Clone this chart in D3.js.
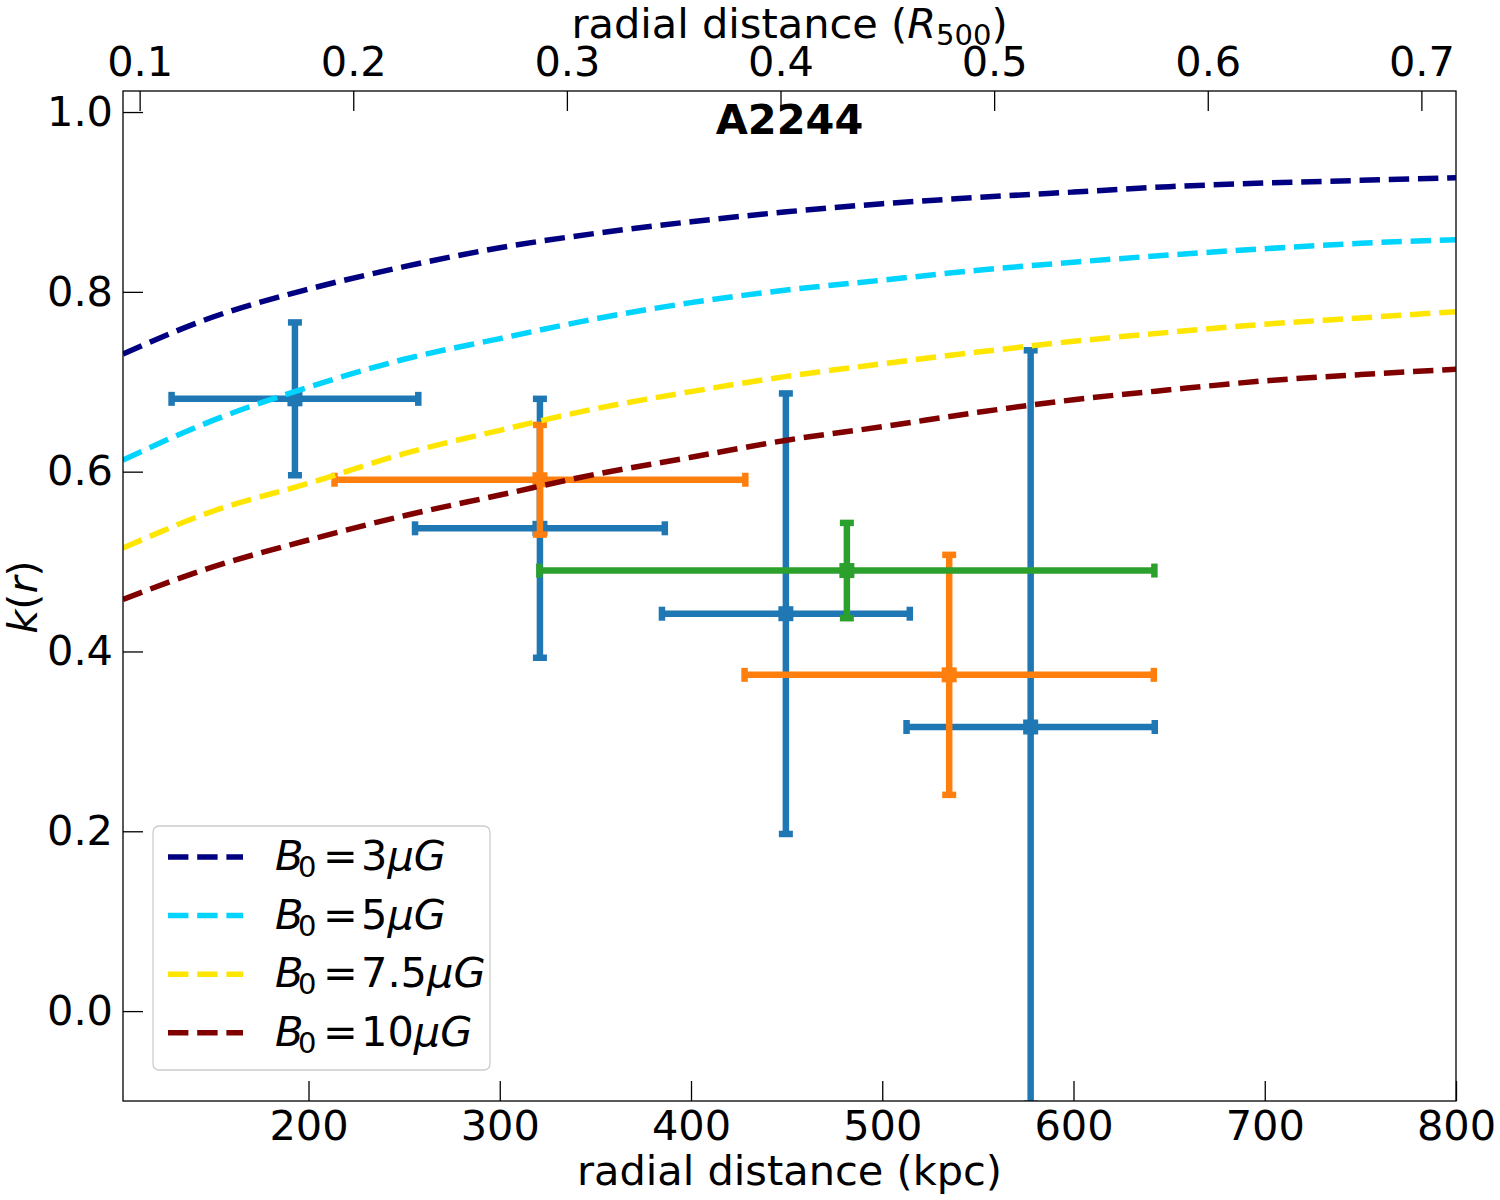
<!DOCTYPE html>
<html><head><meta charset="utf-8">
<script src="https://cdn.jsdelivr.net/npm/d3@7"></script>
<style>
body{margin:0;background:#fff}
text{font-family:"DejaVu Sans",sans-serif;fill:#000}
</style>
</head><body>
<svg id="chart" width="1500" height="1200"></svg>
<script>
// ---------- data ----------
const curveR = [103,150,200,250,300,350,400,450,500,550,600,650,700,750,800];
const kB3   = [0.731,0.772,0.803,0.828,0.849,0.865,0.878,0.889,0.898,0.905,0.911,0.917,0.921,0.924,0.927];
const kB5   = [0.613,0.657,0.694,0.725,0.748,0.770,0.788,0.802,0.813,0.824,0.833,0.841,0.848,0.854,0.858];
const kB75  = [0.515,0.556,0.587,0.620,0.646,0.670,0.689,0.706,0.720,0.733,0.745,0.755,0.764,0.771,0.778];
const kB10  = [0.458,0.494,0.524,0.551,0.574,0.597,0.616,0.635,0.650,0.666,0.680,0.691,0.701,0.708,0.714];
const curveLabels = ["3","5","7.5","10"];
const curveColors = ["#000080","#00d4ff","#ffe600","#800000"];

const blueR    = [192.9,321.0,449.6,577.6];
const blueRerr = [64.5,65.3,64.8,64.9];
const blueK    = [0.681,0.537,0.442,0.316];
const blueKerr = [0.085,0.144,0.245,0.419];

const orangeR    = [321.0,535.0];
const orangeRerr = [107.4,107.0];
const orangeK    = [0.591,0.374];
const orangeKerr = [0.061,0.1335];

const greenR    = [481.5];
const greenRerr = [160.8];
const greenK    = [0.490];
const greenKerr = [0.053];

const xTicks   = [200,300,400,500,600,700,800];
const topTicks = [0.1,0.2,0.3,0.4,0.5,0.6,0.7];
const yTicks   = [0.0,0.2,0.4,0.6,0.8,1.0];
const R500 = 1117;   // kpc
const titleText = "A2244";

// ---------- layout ----------
const L = 123, R = 1456, T = 91, B = 1101;
const FS = 41.5;
const svg = d3.select("#chart");

const x = d3.scaleLinear().domain([103, 800]).range([L, R]);
const xTop = d3.scaleLinear().domain([103 / R500, 800 / R500]).range([L, R]);
const y = d3.scaleLinear().domain([-0.1, 1.0234]).range([B, T]);

svg.append("defs").append("clipPath").attr("id","clip")
  .append("rect").attr("x",L).attr("y",T).attr("width",R-L).attr("height",B-T);

const plot = svg.append("g").attr("clip-path","url(#clip)");

// ---------- error bars ----------
function errorbars(rs, rerr, ks, kerr, color) {
  const g = plot.append("g");
  const lw = 6.5, cap = 7;
  rs.forEach((r, i) => {
    const cx = x(r), cy = y(ks[i]);
    const x0 = x(r - rerr[i]), x1 = x(r + rerr[i]);
    const y0 = y(ks[i] - kerr[i]), y1 = y(ks[i] + kerr[i]);
    g.append("line").attr("x1",x0).attr("x2",x1).attr("y1",cy).attr("y2",cy)
      .attr("stroke",color).attr("stroke-width",lw);
    g.append("line").attr("x1",cx).attr("x2",cx).attr("y1",y0).attr("y2",y1)
      .attr("stroke",color).attr("stroke-width",lw);
    [x0, x1].forEach(xx => g.append("line").attr("x1",xx).attr("x2",xx)
      .attr("y1",cy-cap).attr("y2",cy+cap).attr("stroke",color).attr("stroke-width",lw));
    [y0, y1].forEach(yy => g.append("line").attr("x1",cx-cap).attr("x2",cx+cap)
      .attr("y1",yy).attr("y2",yy).attr("stroke",color).attr("stroke-width",lw));
    g.append("rect").attr("x",cx-7.5).attr("y",cy-7.5).attr("width",15).attr("height",15)
      .attr("fill",color);
  });
}
errorbars(blueR, blueRerr, blueK, blueKerr, "#1f77b4");
errorbars(orangeR, orangeRerr, orangeK, orangeKerr, "#ff7f0e");
errorbars(greenR, greenRerr, greenK, greenKerr, "#2ca02c");

// ---------- curves ----------
const curves = [kB3, kB5, kB75, kB10];
const line = d3.line().x(d => x(d[0])).y(d => y(d[1])).curve(d3.curveMonotoneX);
curves.forEach((ks, i) => {
  plot.append("path").datum(curveR.map((r, j) => [r, ks[j]]))
    .attr("d", line).attr("fill","none").attr("stroke",curveColors[i])
    .attr("stroke-width",5.5).attr("stroke-dasharray","20.4,8.8");
});

// ---------- axes ----------
const styleAxis = g => {
  g.select(".domain").remove();
  g.selectAll(".tick line").attr("stroke","#000").attr("stroke-width",1.3);
  g.selectAll(".tick text").attr("font-size",FS).attr("font-family","DejaVu Sans").attr("fill","#000");
};
svg.append("g").attr("transform",`translate(0,${B})`)
  .call(d3.axisBottom(x).tickValues(xTicks).tickSizeInner(-20).tickSizeOuter(0).tickPadding(9.5).tickFormat(d3.format("d")))
  .call(styleAxis);
svg.append("g").attr("transform",`translate(0,${T})`)
  .call(d3.axisTop(xTop).tickValues(topTicks).tickSizeInner(-20).tickSizeOuter(0).tickPadding(15).tickFormat(d3.format(".1f")))
  .call(styleAxis);
svg.append("g").attr("transform",`translate(${L},0)`)
  .call(d3.axisLeft(y).tickValues(yTicks).tickSizeInner(-20).tickSizeOuter(0).tickPadding(10).tickFormat(d3.format(".1f")))
  .call(styleAxis);

// spines
svg.append("rect").attr("x",L).attr("y",T).attr("width",R-L).attr("height",B-T)
  .attr("fill","none").attr("stroke","#000").attr("stroke-width",1.3);

// ---------- labels ----------
svg.append("text").attr("x",(L+R)/2).attr("y",1185).attr("text-anchor","middle")
  .attr("font-size",FS).text("radial distance (kpc)");

const tl = svg.append("text").attr("x",(L+R)/2).attr("y",38).attr("text-anchor","middle").attr("font-size",FS);
tl.append("tspan").text("radial distance (");
tl.append("tspan").attr("font-style","italic").text("R");
tl.append("tspan").attr("font-size",29).attr("dy",7).text("500");
tl.append("tspan").attr("dy",-7).text(")");

const yl = svg.append("text").attr("transform","translate(37,597) rotate(-90)")
  .attr("text-anchor","middle").attr("font-size",FS);
yl.append("tspan").attr("font-style","italic").text("k");
yl.append("tspan").text("(");
yl.append("tspan").attr("font-style","italic").text("r");
yl.append("tspan").text(")");

svg.append("text").attr("x",(L+R)/2).attr("y",134).attr("text-anchor","middle")
  .attr("font-size",FS).attr("font-weight","bold").text(titleText);

// ---------- legend ----------
const lg = svg.append("g");
lg.append("rect").attr("x",153).attr("y",826).attr("width",337).attr("height",244)
  .attr("rx",6).attr("fill","#fff").attr("fill-opacity",0.8).attr("stroke","#cccccc").attr("stroke-width",1.3);
curveLabels.forEach((lab, i) => {
  const ly = 857 + i * 58.6;
  lg.append("line").attr("x1",168).attr("x2",243).attr("y1",ly).attr("y2",ly)
    .attr("stroke",curveColors[i]).attr("stroke-width",5.5).attr("stroke-dasharray","20.4,8.8");
  const t = lg.append("text").attr("y",ly+13).attr("font-size",FS);
  t.append("tspan").attr("x",275).attr("font-style","italic").text("B");
  t.append("tspan").attr("x",298).attr("dy",7).attr("font-size",29).text("0");
  t.append("tspan").attr("x",323).attr("dy",-7).text("=");
  t.append("tspan").attr("x",361).text(lab);
  t.append("tspan").attr("font-style","italic").text("μG");
});
</script>
</body></html>
